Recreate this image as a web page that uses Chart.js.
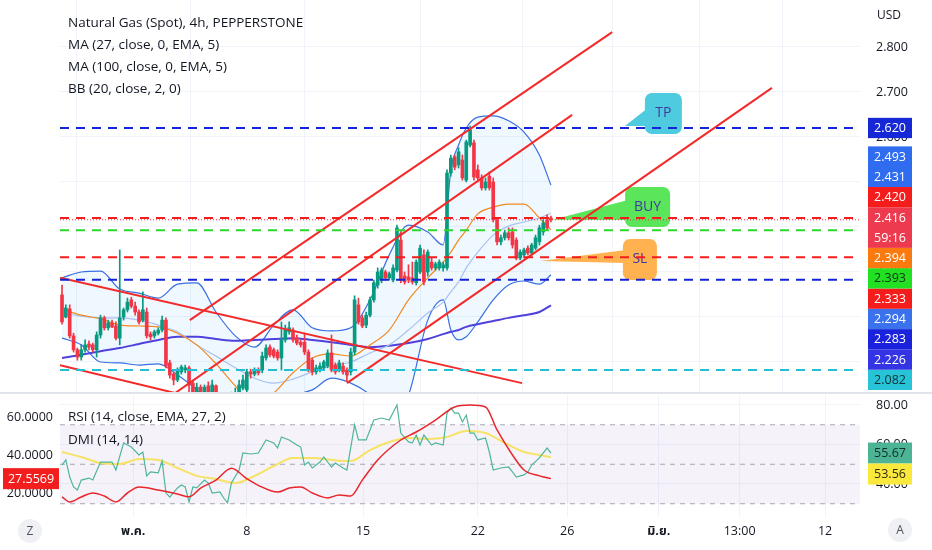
<!DOCTYPE html>
<html><head><meta charset="utf-8">
<script src="https://cdn.jsdelivr.net/npm/chart.js@4.4.1/dist/chart.umd.min.js"></script>
<style>
body{margin:0;background:#fff;}
#wrap{position:relative;width:932px;height:550px;overflow:hidden;background:#fff;}
#c1{position:absolute;left:0;top:0;}
#c2{position:absolute;left:0;top:394px;}
#sep{position:absolute;left:0;top:392px;width:932px;height:2px;background:#e0e3eb;}
.circ{position:absolute;width:24px;height:24px;border-radius:12px;background:#eef0f4;color:#50535e;font:12px 'Open Sans','Noto Sans',sans-serif;text-align:center;line-height:24px;}
</style></head>
<body><div id="wrap">
<canvas id="c1" width="932" height="392"></canvas>
<div id="sep"></div>
<canvas id="c2" width="932" height="156"></canvas>
<div class="circ" style="left:18px;top:519px;">Z</div>
<div class="circ" style="left:888px;top:518px;">A</div>
</div>
<script>
// ---------- DATA ----------
const candleOpen  = [2.249,2.200,2.218,2.158,2.127,2.111,2.127,2.140,2.138,2.127,2.160,2.198,2.176,2.187,2.180,2.153,2.200,2.216,2.238,2.224,2.211,2.193,2.211,2.162,2.158,2.164,2.171,2.193,2.098,2.073,2.060,2.078,2.082,2.087,2.053,2.033,2.044,2.033,2.047,2.033,2.047,2.020,2.004,2.020,1.998,2.016,2.024,2.042,2.038,2.078,2.073,2.082,2.082,2.109,2.133,2.127,2.122,2.109,2.149,2.167,2.171,2.153,2.144,2.144,2.122,2.104,2.078,2.082,2.087,2.091,2.120,2.093,2.082,2.091,2.082,2.078,2.122,2.227,2.198,2.182,2.204,2.238,2.271,2.282,2.300,2.287,2.282,2.304,2.371,2.291,2.289,2.287,2.276,2.300,2.338,2.300,2.322,2.309,2.309,2.309,2.309,2.520,2.556,2.538,2.549,2.504,2.582,2.587,2.527,2.509,2.487,2.513,2.500,2.416,2.367,2.376,2.387,2.389,2.371,2.331,2.338,2.353,2.342,2.353,2.367,2.389,2.416,2.420];
const candleHigh  = [2.271,2.227,2.227,2.164,2.131,2.138,2.149,2.147,2.142,2.167,2.204,2.202,2.193,2.193,2.189,2.349,2.220,2.242,2.244,2.233,2.216,2.256,2.220,2.167,2.171,2.176,2.202,2.198,2.104,2.078,2.087,2.093,2.093,2.091,2.060,2.053,2.049,2.049,2.056,2.060,2.049,2.027,2.027,2.024,2.033,2.042,2.060,2.071,2.084,2.084,2.087,2.087,2.122,2.138,2.138,2.131,2.127,2.189,2.182,2.189,2.176,2.160,2.149,2.164,2.127,2.109,2.093,2.098,2.104,2.127,2.160,2.098,2.104,2.098,2.087,2.131,2.247,2.242,2.204,2.211,2.244,2.282,2.309,2.309,2.304,2.300,2.316,2.404,2.389,2.300,2.316,2.322,2.327,2.360,2.349,2.349,2.331,2.322,2.327,2.322,2.527,2.560,2.560,2.576,2.560,2.593,2.624,2.593,2.538,2.516,2.509,2.522,2.509,2.420,2.382,2.393,2.398,2.398,2.376,2.349,2.353,2.358,2.364,2.382,2.404,2.416,2.427,2.424];
const candleLow   = [2.184,2.198,2.153,2.122,2.104,2.104,2.122,2.127,2.122,2.111,2.153,2.171,2.171,2.176,2.149,2.138,2.193,2.211,2.220,2.204,2.184,2.189,2.153,2.149,2.153,2.160,2.167,2.087,2.064,2.049,2.056,2.073,2.076,2.027,2.004,2.024,2.020,2.027,2.024,2.027,2.004,1.993,1.993,1.993,1.993,2.004,2.020,2.038,2.027,2.064,2.069,2.071,2.076,2.104,2.111,2.109,2.104,2.082,2.144,2.162,2.144,2.138,2.133,2.116,2.078,2.071,2.073,2.078,2.082,2.087,2.078,2.073,2.078,2.073,2.056,2.071,2.116,2.184,2.176,2.176,2.200,2.233,2.264,2.276,2.282,2.282,2.278,2.300,2.276,2.273,2.276,2.273,2.271,2.296,2.271,2.291,2.304,2.304,2.304,2.302,2.304,2.513,2.527,2.531,2.504,2.500,2.578,2.504,2.500,2.482,2.482,2.482,2.411,2.360,2.360,2.371,2.371,2.353,2.327,2.327,2.331,2.338,2.338,2.349,2.360,2.382,2.393,2.411];
const candleClose = [2.189,2.220,2.158,2.127,2.111,2.127,2.138,2.133,2.127,2.160,2.198,2.176,2.187,2.178,2.153,2.198,2.216,2.233,2.224,2.211,2.189,2.216,2.158,2.156,2.167,2.171,2.193,2.091,2.071,2.060,2.082,2.089,2.087,2.049,2.016,2.044,2.033,2.044,2.033,2.049,2.016,2.004,2.020,1.998,2.016,2.027,2.049,2.060,2.078,2.073,2.082,2.076,2.113,2.131,2.116,2.113,2.109,2.149,2.171,2.176,2.149,2.142,2.138,2.122,2.082,2.078,2.087,2.091,2.100,2.120,2.082,2.078,2.098,2.078,2.071,2.122,2.238,2.189,2.180,2.204,2.238,2.276,2.300,2.304,2.287,2.296,2.309,2.398,2.282,2.278,2.282,2.278,2.322,2.353,2.278,2.344,2.309,2.318,2.322,2.316,2.520,2.553,2.533,2.567,2.509,2.589,2.616,2.511,2.509,2.487,2.500,2.487,2.416,2.367,2.376,2.387,2.376,2.360,2.331,2.344,2.349,2.342,2.360,2.376,2.398,2.409,2.398,2.416];

// indicator samples (bar index -> value)
const maIdx   = [0,5,10,15,20,25,30,35,40,45,50,55,60,65,70,75,80,85,90,95,99,101,103,105,108,112,116,120,124,127];
const bbUpper = [2.287,2.300,2.302,2.262,2.253,2.242,2.273,2.276,2.211,2.158,2.133,2.182,2.216,2.176,2.169,2.176,2.238,2.338,2.404,2.389,2.360,2.527,2.582,2.620,2.644,2.647,2.636,2.611,2.560,2.493];
const bbLower = [2.153,2.138,2.100,2.098,2.093,2.096,2.071,2.038,1.993,1.971,1.982,2.016,2.027,2.038,2.064,2.053,2.027,1.982,2.027,2.193,2.238,2.171,2.149,2.156,2.189,2.238,2.271,2.280,2.273,2.294];
const maOrange = [2.218,2.204,2.196,2.182,2.180,2.178,2.164,2.138,2.096,2.047,2.004,2.031,2.076,2.109,2.118,2.113,2.138,2.171,2.238,2.287,2.322,2.344,2.371,2.393,2.429,2.444,2.451,2.451,2.420,2.394];
const maPale   = [2.209,2.202,2.198,2.198,2.193,2.182,2.167,2.138,2.113,2.087,2.064,2.053,2.062,2.078,2.091,2.100,2.120,2.138,2.171,2.209,2.233,2.256,2.278,2.309,2.344,2.382,2.402,2.411,2.420,2.431];
const ma100    = [2.109,2.116,2.124,2.131,2.140,2.149,2.156,2.156,2.151,2.147,2.149,2.151,2.153,2.149,2.144,2.138,2.133,2.136,2.142,2.151,2.162,2.167,2.171,2.178,2.184,2.191,2.198,2.204,2.211,2.226];

// horizontal drawn levels
const levelPrices = [2.620, 2.420, 2.393, 2.333, 2.283, 2.082];
const levelColors = ['#1424d0','#f21d1d','#2fd62f','#f21d1d','#1424d0','#22bfd3'];
// trend lines [i1, p1, i2, p2]
const trendLines = [[33.2,2.193,142.9,2.833],[29.4,2.031,132.5,2.649],[74.0,2.053,184.4,2.709],[-0.5,2.287,119.5,2.053],[-0.5,2.093,29.4,2.031]];

// RSI / DMI pane
const rsiIdx = [0,1,2,3,4,5,7,8,10,12,13,14,16,17,18,20,21,22,23,25,26,27,28,30,31,32,33,34,35,37,38,39,41,42,43,44,46,47,49,51,53,55,56,57,59,61,62,63,64,65,67,68,70,71,73,74,76,77,79,81,83,85,87,88,90,91,92,93,94,96,97,99,100,101,102,103,104,105,106,107,108,110,111,112,114,116,117,118,120,121,122,124,126,127];
const rsiVal = [49.6,52.2,43.5,38.5,37.0,42.0,43.0,42.0,51.1,51.1,51.1,47.1,60.8,59.7,58.7,54.7,56.2,44.1,46.1,45.6,51.6,35.4,33.4,38.0,39.5,38.5,30.9,38.5,38.0,42.0,40.5,35.4,36.0,32.9,30.4,40.5,47.1,55.7,55.2,55.7,62.3,60.8,58.2,63.8,62.3,59.7,58.7,49.6,51.1,48.1,51.1,53.7,48.6,50.6,48.1,47.1,69.9,62.3,62.3,72.4,73.4,72.4,80.0,65.8,61.3,60.8,64.8,59.7,64.8,59.7,60.8,59.7,75.9,78.5,75.9,75.9,71.4,74.9,65.8,65.8,62.3,63.3,56.2,47.1,48.1,48.6,46.1,43.5,44.6,46.1,49.6,53.2,58.2,55.67];
const rsiMaIdx = [0,5,10,15,20,25,30,35,40,45,50,55,60,65,70,75,80,85,90,95,100,105,110,115,120,124,127];
const rsiMaVal = [56.2,53.7,50.6,50.1,52.7,52.2,48.1,44.1,42.5,40.5,44.1,49.1,53.2,53.2,52.2,51.6,57.2,61.3,63.3,62.8,63.8,66.8,65.8,60.8,56.2,54.7,53.56];
const dmiIdx = [0,2,5,8,11,14,17,20,25,30,33,36,40,44,48,51,56,59,62,65,69,72,75,78,82,88,92,97,102,106,110,113,117,120,124,127];
const dmiVal = [17.9,15.3,17.9,20.0,18.4,15.3,20.0,23.2,21.6,19.5,18.0,22.6,26.8,33.0,27.5,24.0,20.5,22.6,23.2,20.0,17.4,19.0,18.4,26.8,37.4,47.9,52.1,58.4,65.3,66.3,65.3,53.2,40.0,32.1,29.0,27.5569];
const rsiBands = [70, 50, 30];

// axes
const priceTicks = [2.1,2.2,2.3,2.4,2.5,2.6,2.7,2.8];
const rsiTicks = [40,60,80];
const dmiTicks = [20,40,60];
const timeTickIdx = [18.5,48,78.2,108,131.2,155,176,198.2];
const timeTickLabels = ['พ.ค.','8','15','22','26','มิ.ย.','13:00','12'];
const timeTickBold = [true,false,false,false,false,true,false,false];

// ---------- SETTINGS ----------
const FONT = "'Open Sans','Noto Sans','Noto Sans Thai','DejaVu Sans',sans-serif";
const xMin = -0.52, xMax = 207.27;
const priceMin = 2.0333, priceMax = 2.9044;
const GREEN = '#089981', RED = '#f23645';
const TXT = '#131722';
const GRID = '#f0f3fa';

const pts = (idx, vals) => idx.map((x,k)=>({x, y: vals[k]}));
const candleColors = candleOpen.map((o,i)=> candleClose[i] >= o ? GREEN : RED);
const last = a => a[a.length-1];
const noPad = s => { s.paddingTop=0; s.paddingBottom=0; s.paddingLeft=0; s.paddingRight=0; };

const callouts = [
  {text:'TP',  fill:'#4fcbe0', tip:[146.2,2.6244], box:[156.2,2.6522], w:37, h:41, tail:[-5.5,12.5]},
  {text:'BUY', fill:'#5ae55a', tip:[127.5,2.416],  box:[152.1,2.4444], w:45, h:40, tail:[-7,13]},
  {text:'SL',  fill:'#ffb24f', tip:[124.2,2.3244], box:[150.1,2.3278], w:34, h:41, tail:[-9.5,3.5]}
];

const mainOverlay = {
  id:'mainOverlay',
  beforeDatasetsDraw(chart){
    const {ctx, scales:{x,y}} = chart;
    ctx.save();
    callouts.forEach(c=>{
      const tx=x.getPixelForValue(c.tip[0]), ty=y.getPixelForValue(c.tip[1]);
      const cx=x.getPixelForValue(c.box[0]), cy=y.getPixelForValue(c.box[1]);
      const l=cx-c.w/2, t=cy-c.h/2;
      ctx.fillStyle=c.fill;
      ctx.beginPath(); ctx.moveTo(tx,ty); ctx.lineTo(l+3,cy+c.tail[0]); ctx.lineTo(l+3,cy+c.tail[1]); ctx.closePath(); ctx.fill();
      ctx.beginPath(); ctx.roundRect(l,t,c.w,c.h,7); ctx.fill();
      ctx.fillStyle='#3f3b9f'; ctx.font='14px '+FONT; ctx.textAlign='center'; ctx.textBaseline='middle';
      ctx.fillText(c.text,cx,cy);
    });
    ctx.restore();
  },
  afterDraw(chart){
    const {ctx, chartArea, scales:{y}} = chart;
    ctx.save();
    ctx.fillStyle=TXT; ctx.font='13.5px '+FONT; ctx.textAlign='left'; ctx.textBaseline='middle';
    ['Natural Gas (Spot), 4h, PEPPERSTONE','MA (27, close, 0, EMA, 5)','MA (100, close, 0, EMA, 5)','BB (20, close, 2, 0)']
      .forEach((s,k)=>ctx.fillText(s,68,23+k*22));
    ctx.font='12px '+FONT; ctx.fillText('USD',877,16);
    // price labels
    const bx=868, bw=44, rh=20.3;
    const drawBox=(top,rows,bg,fg)=>{
      ctx.fillStyle=bg; ctx.fillRect(bx,top,bw,rh*rows.length);
      ctx.fillStyle=fg; ctx.font='12.5px '+FONT; ctx.textAlign='center';
      rows.forEach((r,k)=>ctx.fillText(r,bx+bw/2,top+rh*k+rh/2+0.5));
    };
    const py=y.getPixelForValue(levelPrices[0]);
    drawBox(py-rh/2,[levelPrices[0].toFixed(3)],'#1628d6','#fff');
    const f=v=>v.toFixed(3);
    const cluster=[
      {rows:[f(last(bbUpper)),f(last(maPale))],bg:'#2f6cf0',fg:'#fff'},
      {rows:[f(levelPrices[1])],bg:'#f51c1c',fg:'#fff'},
      {rows:[f(last(candleClose)),'59:16'],bg:'#ee3a4e',fg:'#fff'},
      {rows:[f(last(maOrange))],bg:'#fb7a10',fg:'#fff'},
      {rows:[f(levelPrices[2])],bg:'#22e022',fg:'#123312'},
      {rows:[f(levelPrices[3])],bg:'#f51c1c',fg:'#fff'},
      {rows:[f(last(bbLower))],bg:'#3a72ee',fg:'#fff'},
      {rows:[f(levelPrices[4])],bg:'#1a22dc',fg:'#fff'},
      {rows:[f(last(ma100))],bg:'#3434e4',fg:'#fff'},
      {rows:[f(levelPrices[5])],bg:'#27c3d6',fg:'#0d2f35'}
    ];
    let bottom=chartArea.bottom-2;
    for(let k=cluster.length-1;k>=0;k--){
      const c=cluster[k]; const h=rh*c.rows.length;
      drawBox(bottom-h,c.rows,c.bg,c.fg); bottom-=h;
    }
    ctx.restore();
  }
};

const mainDatasets = [
  ...levelPrices.map((v,k)=>({type:'line',data:[{x:xMin,y:v},{x:xMax,y:v}],borderColor:levelColors[k],borderWidth:2,borderDash:[9,7],pointRadius:0,order:0})),
  {type:'line',data:[{x:xMin,y:last(candleClose)},{x:xMax,y:last(candleClose)}],borderColor:'#f23645',borderWidth:1,borderDash:[1,2],pointRadius:0,order:0},
  ...trendLines.map(t=>({type:'line',data:[{x:t[0],y:t[1]},{x:t[2],y:t[3]}],borderColor:'#f42a2a',borderWidth:2,pointRadius:0,order:1})),
  {type:'bar',data:candleOpen.map((o,i)=>({x:i,y:[o,candleClose[i]]})),backgroundColor:candleColors,borderWidth:0,barThickness:3,grouped:false,order:2},
  {type:'bar',data:candleHigh.map((h,i)=>({x:i,y:[candleLow[i],h]})),backgroundColor:candleColors,borderWidth:0,barThickness:1,grouped:false,order:3},
  {type:'line',data:pts(maIdx,maOrange),borderColor:'#f5891f',borderWidth:1.2,pointRadius:0,cubicInterpolationMode:'monotone',order:4},
  {type:'line',data:pts(maIdx,maPale),borderColor:'#a9c1f2',borderWidth:1.2,pointRadius:0,cubicInterpolationMode:'monotone',order:4},
  {type:'line',data:pts(maIdx,ma100),borderColor:'#4f42dc',borderWidth:2,pointRadius:0,cubicInterpolationMode:'monotone',order:4},
  {type:'line',data:pts(maIdx,bbUpper),borderColor:'#3a6ee3',borderWidth:1.2,pointRadius:0,cubicInterpolationMode:'monotone',fill:'+1',backgroundColor:'rgba(33,150,243,0.07)',order:5},
  {type:'line',data:pts(maIdx,bbLower),borderColor:'#3a6ee3',borderWidth:1.2,pointRadius:0,cubicInterpolationMode:'monotone',order:5}
];

new Chart(document.getElementById('c1'),{
  type:'line',
  data:{datasets:mainDatasets},
  options:{
    responsive:false, animation:false, events:[],
    layout:{padding:{left:60,top:0,right:0,bottom:0}},
    plugins:{legend:{display:false},tooltip:{enabled:false}},
    scales:{
      x:{type:'linear',min:xMin,max:xMax,offset:false,
        afterBuildTicks:s=>{s.ticks=timeTickIdx.map(v=>({value:v}));},
        afterFit:s=>{s.height=0; noPad(s);},
        ticks:{display:false},grid:{color:GRID,drawTicks:false},border:{display:false}},
      y:{type:'linear',position:'right',min:priceMin,max:priceMax,
        afterBuildTicks:s=>{s.ticks=priceTicks.map(v=>({value:v}));},
        afterFit:s=>{s.width=72; noPad(s);},
        ticks:{callback:v=>Number(v).toFixed(3),color:TXT,font:{size:12.5,family:FONT},padding:16},
        grid:{color:GRID,drawTicks:false},border:{display:false}}
    }
  },
  plugins:[mainOverlay]
});

// ---------- RSI / DMI pane ----------
const rsiOverlay = {
  id:'rsiOverlay',
  afterDraw(chart){
    const {ctx, scales} = chart;
    ctx.save();
    ctx.fillStyle=TXT; ctx.font='13.5px '+FONT; ctx.textAlign='left'; ctx.textBaseline='middle';
    ctx.fillText('RSI (14, close, EMA, 27, 2)',68,23);
    ctx.fillText('DMI (14, 14)',68,46);
    // right value labels
    const labs=[{v:last(rsiVal),bg:'#4cb494',fg:'#10302a'},{v:last(rsiMaVal),bg:'#fbe83c',fg:'#2b2a10'}];
    let prev=-1e9; const h=21;
    labs.forEach(l=>{
      let cy=Math.max(scales.y.getPixelForValue(l.v),prev+h); prev=cy;
      ctx.fillStyle=l.bg; ctx.fillRect(868,cy-h/2,44,h);
      ctx.fillStyle=l.fg; ctx.font='12.5px '+FONT; ctx.textAlign='center';
      ctx.fillText(l.v.toFixed(2),890,cy+0.5);
    });
    // left value label
    const ly=scales.yL.getPixelForValue(last(dmiVal));
    ctx.fillStyle='#f21d1d'; ctx.fillRect(3,ly-10.5,56,21);
    ctx.fillStyle='#fff'; ctx.textAlign='center'; ctx.font='12.5px '+FONT;
    ctx.fillText(last(dmiVal).toFixed(4),31,ly+0.5);
    ctx.restore();
  }
};

const bandDs = rsiBands.map((v,k)=>({data:[{x:xMin,y:v},{x:xMax,y:v}],yAxisID:'y',borderColor:'#a8abb4',borderWidth:1,borderDash:[5,5],pointRadius:0,order:5,
  fill:k===0?'+2':false,backgroundColor:'rgba(126,87,194,0.08)'}));

new Chart(document.getElementById('c2'),{
  type:'line',
  data:{datasets:[
    {data:pts(dmiIdx,dmiVal),yAxisID:'yL',borderColor:'#e8262b',borderWidth:1.5,pointRadius:0,cubicInterpolationMode:'monotone',order:0},
    {data:pts(rsiIdx,rsiVal),yAxisID:'y',borderColor:'#4fb59c',borderWidth:1.2,pointRadius:0,order:1},
    {data:pts(rsiMaIdx,rsiMaVal),yAxisID:'y',borderColor:'#f6e365',borderWidth:2,pointRadius:0,cubicInterpolationMode:'monotone',order:2},
    ...bandDs
  ]},
  options:{
    responsive:false, animation:false, events:[],
    layout:{padding:{left:0,top:1,right:0,bottom:0}},
    plugins:{legend:{display:false},tooltip:{enabled:false}},
    scales:{
      x:{type:'linear',position:'bottom',min:xMin,max:xMax,offset:false,
        afterBuildTicks:s=>{s.ticks=timeTickIdx.map(v=>({value:v}));},
        afterFit:s=>{s.height=33; noPad(s);},
        ticks:{autoSkip:false,maxRotation:0,minRotation:0,padding:7,color:TXT,
          font:c=>({size:12.5,family:FONT,weight:timeTickBold[c.index]?'bold':'normal'}),
          callback:(v,k)=>timeTickLabels[k]},
        grid:{color:GRID,drawTicks:false},border:{display:false}},
      yL:{type:'linear',position:'left',min:7.37,max:71.58,
        afterBuildTicks:s=>{s.ticks=dmiTicks.map(v=>({value:v}));},
        afterFit:s=>{s.width=60; noPad(s);},
        ticks:{callback:v=>Number(v).toFixed(4),color:TXT,font:{size:12.5,family:FONT},padding:7},
        grid:{display:false,drawTicks:false},border:{display:false}},
      y:{type:'linear',position:'right',min:23.29,max:85.06,
        afterBuildTicks:s=>{s.ticks=rsiTicks.map(v=>({value:v}));},
        afterFit:s=>{s.width=72; noPad(s);},
        ticks:{callback:v=>Number(v).toFixed(2),color:TXT,font:{size:12.5,family:FONT},padding:16},
        grid:{color:GRID,drawTicks:false},border:{display:false}}
    }
  },
  plugins:[rsiOverlay]
});
</script>
</body></html>
